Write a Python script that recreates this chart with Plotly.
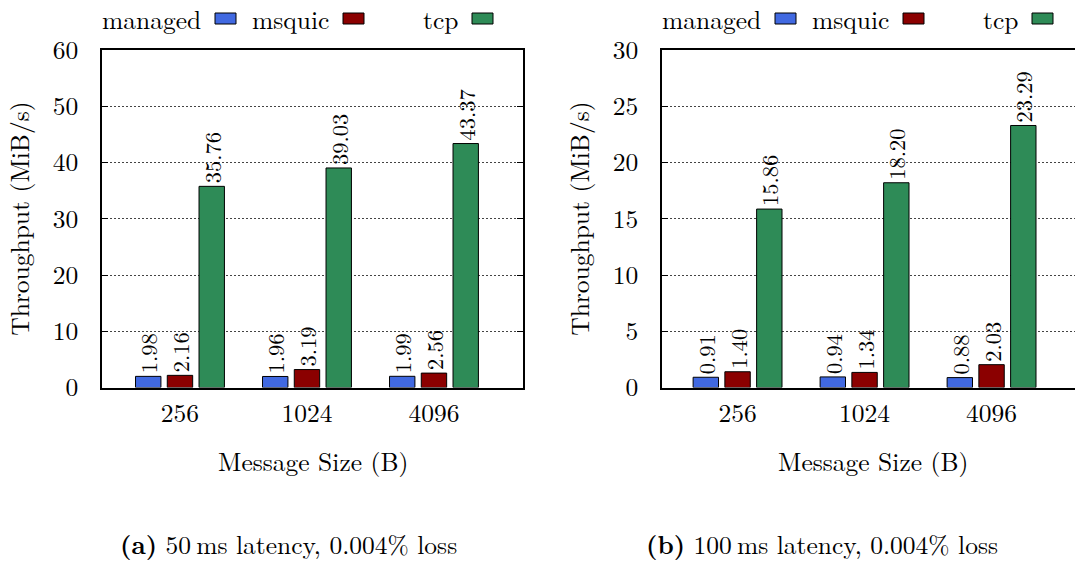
import plotly.graph_objects as go

# ---------------- data ----------------
categories = ["256", "1024", "4096"]
series_names = ["managed", "msquic", "tcp"]

# (a) 50 ms latency, 0.004% loss
a_managed = [1.98, 1.96, 1.99]
a_msquic = [2.16, 3.19, 2.56]
a_tcp = [35.76, 39.03, 43.37]

# (b) 100 ms latency, 0.004% loss
b_managed = [0.91, 0.94, 0.88]
b_msquic = [1.40, 1.34, 2.03]
b_tcp = [15.86, 18.20, 23.29]

y_ticks_a = [0, 10, 20, 30, 40, 50, 60]
y_ticks_b = [0, 5, 10, 15, 20, 25, 30]

x_title = "Message Size (B)"
y_title = "Throughput (MiB/s)"
caption_a = "<b>(a)</b> 50\u2009ms latency, 0.004% loss"
caption_b = "<b>(b)</b> 100\u2009ms latency, 0.004% loss"

# ---------------- style ----------------
W, H = 1075, 562
FONT = "Latin Modern Roman"
FS = 25.5
FS_BAR = 22.5
colors = ["#4169E1", "#8B0000", "#2E8B57"]

panel_a = [a_managed, a_msquic, a_tcp]
panel_b = [b_managed, b_msquic, b_tcp]

fig = go.Figure()


def add_panel(values, xa, ya):
    for name, vals, col in zip(series_names, values, colors):
        fig.add_trace(go.Bar(
            x=categories, y=vals, name=name,
            marker=dict(color=col, line=dict(color="black", width=1)),
            text=[f"{v:.2f}" for v in vals],
            textposition="outside", textangle=-90,
            constraintext="none", cliponaxis=False,
            textfont=dict(family=FONT, size=FS_BAR, color="black"),
            xaxis=xa, yaxis=ya, showlegend=False,
            hoverinfo="skip",
        ))


add_panel(panel_a, "x", "y")
add_panel(panel_b, "x2", "y2")

left_a, right_a = 102, 523
left_b = 662
top_px, bot_px = 50, 387.5

px = lambda v: v / W
py = lambda v: 1 - v / H

common_x = dict(type="category", showgrid=False, ticks="", zeroline=False,
                showline=True, linecolor="black", linewidth=1.5, mirror=True,
                tickfont=dict(family=FONT, size=FS, color="black"),
                ticklabelstandoff=2, automargin=False)
common_y = dict(showgrid=True, gridcolor="#444444", griddash="2px,2px",
                gridwidth=1, zeroline=False, showline=True, linecolor="black",
                linewidth=1.5, ticks="inside", ticklen=6, tickcolor="black",
                tickfont=dict(family=FONT, size=FS, color="black"),
                ticklabelstandoff=17, automargin=False)

fig.update_layout(
    width=W, height=H,
    margin=dict(l=0, r=0, t=0, b=0, autoexpand=False),
    paper_bgcolor="white", plot_bgcolor="white",
    barmode="group", bargap=0.25, bargroupgap=0.2,
    font=dict(family=FONT, size=FS, color="black"),
    xaxis=dict(domain=[px(left_a), px(right_a)], range=[-0.614, 2.701],
               anchor="y", **common_x),
    yaxis=dict(domain=[py(bot_px), py(top_px)], range=[0, 60],
               tickvals=y_ticks_a, anchor="x", mirror="ticks", **common_y),
    xaxis2=dict(domain=[px(left_b), 1.0], range=[-0.595, 2.657],
                anchor="y2", **common_x),
    yaxis2=dict(domain=[py(bot_px), py(top_px)], range=[0, 30],
                tickvals=y_ticks_b, anchor="x2", mirror=False, **common_y),
)

annotations = []
shapes = []
for left in (left_a, left_b):
    # custom legend: text followed by a sample box
    for name, col, off in zip(series_names, colors, [113, 241, 370]):
        x0 = left + off
        shapes.append(dict(type="rect", xref="paper", yref="paper",
                           x0=px(x0), x1=px(x0 + 21), y0=py(24), y1=py(13),
                           fillcolor=col, line=dict(color="black", width=1)))
        annotations.append(dict(text=name, xref="paper", yref="paper",
                                x=px(x0 - 12), y=py(18), xanchor="right",
                                yanchor="middle", showarrow=False,
                                font=dict(family=FONT, size=FS)))
    # y axis title
    annotations.append(dict(text=y_title, xref="paper", yref="paper",
                            x=px(left - 84), y=py((top_px + bot_px) / 2),
                            textangle=-90, xanchor="center", yanchor="middle",
                            showarrow=False, font=dict(family=FONT, size=FS)))

annotations.append(dict(text=x_title, xref="paper", yref="paper",
                        x=px((left_a + right_a) / 2), y=py(460),
                        xanchor="center", yanchor="middle", showarrow=False,
                        font=dict(family=FONT, size=FS)))
annotations.append(dict(text=x_title, xref="paper", yref="paper",
                        x=px(left_b + (right_a - left_a) / 2), y=py(460),
                        xanchor="center", yanchor="middle", showarrow=False,
                        font=dict(family=FONT, size=FS)))
annotations.append(dict(text=caption_a, xref="paper", yref="paper",
                        x=px(288), y=py(543), xanchor="center",
                        yanchor="middle", showarrow=False,
                        font=dict(family=FONT, size=FS)))
annotations.append(dict(text=caption_b, xref="paper", yref="paper",
                        x=px(822), y=py(543), xanchor="center",
                        yanchor="middle", showarrow=False,
                        font=dict(family=FONT, size=FS)))

fig.update_layout(annotations=annotations, shapes=shapes)

fig.write_html("out.html")
